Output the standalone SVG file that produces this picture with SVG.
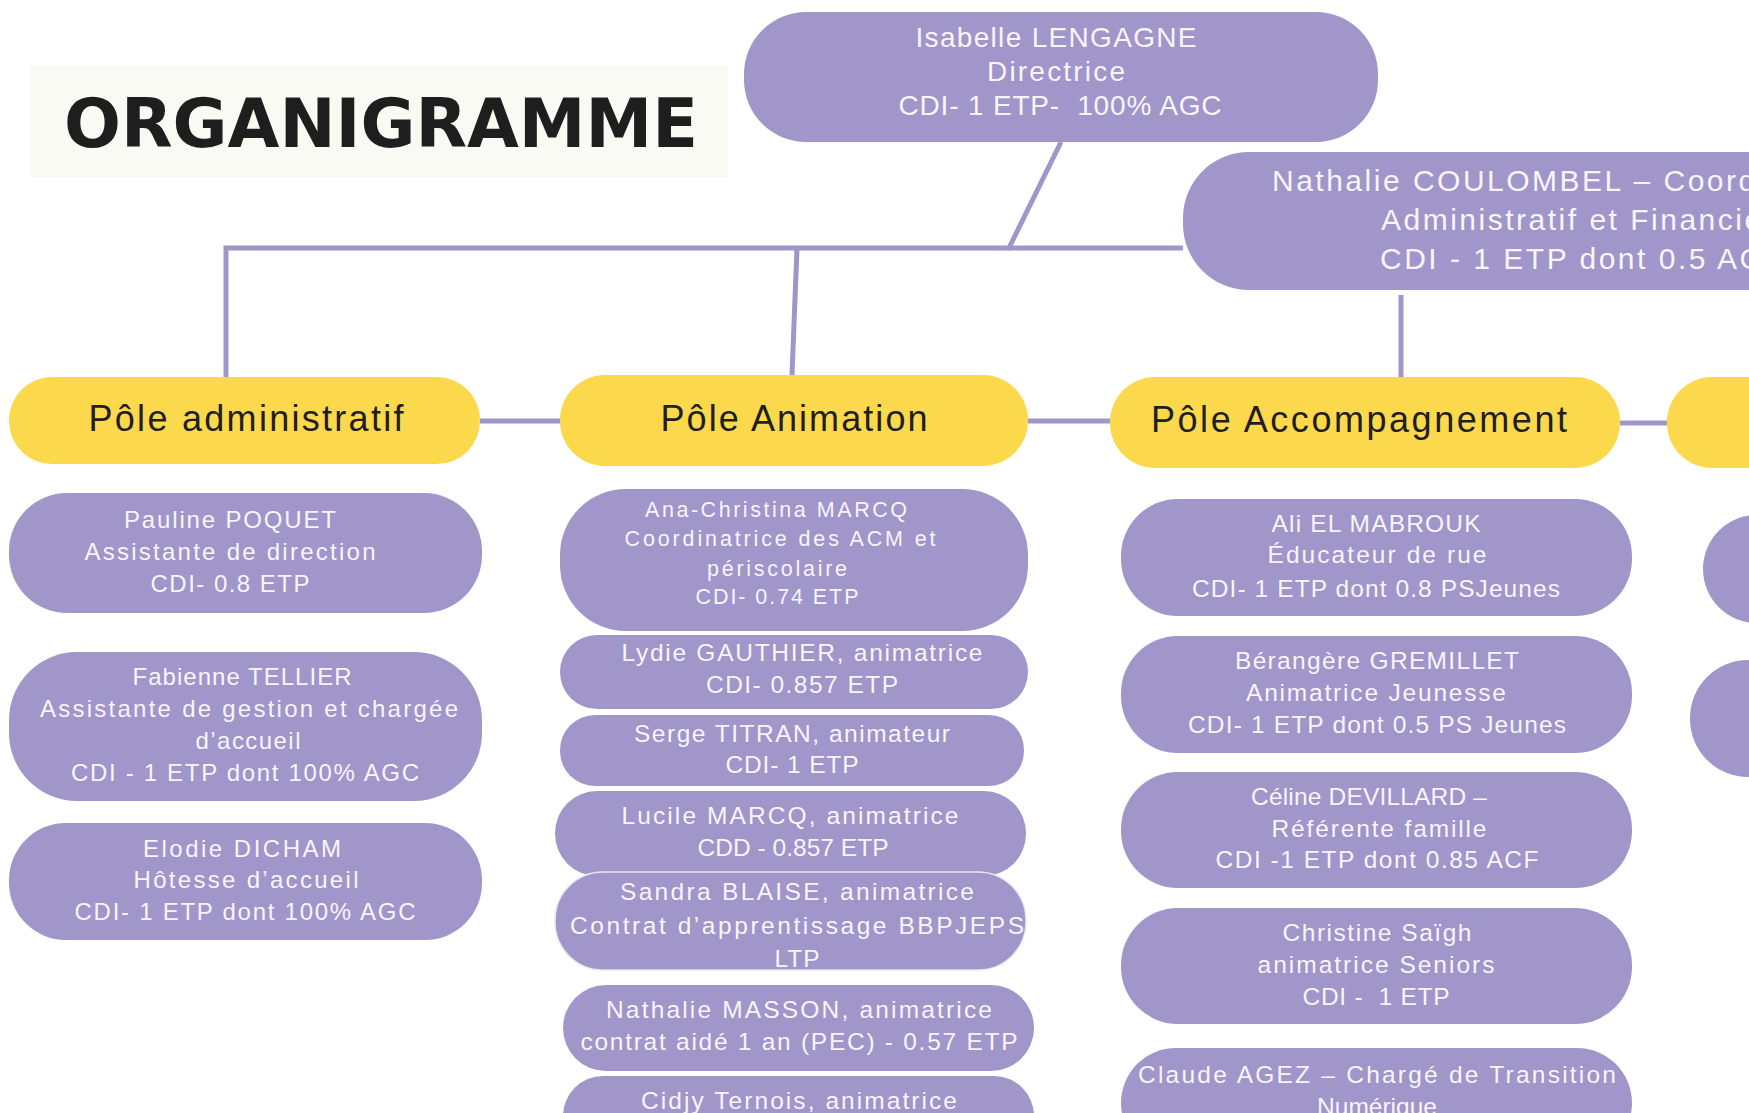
<svg xmlns="http://www.w3.org/2000/svg" width="1749" height="1113" viewBox="0 0 1749 1113">
<style>
.node{fill:#a196c9}
.pole{fill:#fcd84c}
.conn{fill:none;stroke:#a196c9;stroke-width:5}
text{font-family:"Liberation Sans",Arial,sans-serif}
.t{fill:#f7f5fb;text-anchor:middle}
.s20{font-size:21.5px}
.s22{font-size:24px}
.s23{font-size:24.5px}
.s28{font-size:28px}
.pt{fill:#1f1f1f;font-size:36px;text-anchor:middle}
.ts{fill:#f7f5fb;font-size:30px;letter-spacing:2.5px}
</style>
<rect x="0" y="0" width="1749" height="1113" fill="#ffffff"/>
<rect x="30" y="66" width="698" height="111" fill="#fafaf5"/>
<text x="64" y="147" style="font-family:'DejaVu Sans',sans-serif;font-weight:bold;font-size:67px;fill:#1e1e1e">ORGANIGRAMME</text>

<g id="connectors">
<path class="conn" d="M226,377 V248 H1183"/>
<path class="conn" d="M1061,142 L1008,250"/>
<path class="conn" d="M797,248 L792,375"/>
<path class="conn" d="M1401,295 V377"/>
<path class="conn" d="M480,421 H560"/>
<path class="conn" d="M1028,421 H1110"/>
<path class="conn" d="M1620,423 H1667"/>
</g>

<g id="isabelle">
<rect class="node" x="744" y="12" width="634" height="130" rx="62"/>
<text class="t s28" x="1056" y="47" textLength="281">Isabelle LENGAGNE</text>
<text class="t s28" x="1056" y="81" textLength="138">Directrice</text>
<text class="t s28" x="1060" y="115" textLength="323" xml:space="preserve">CDI- 1 ETP-  100% AGC</text>
</g>

<g id="nathalie-coulombel">
<rect class="node" x="1183" y="152" width="700" height="138" rx="66"/>
<text class="ts" x="1272" y="191">Nathalie COULOMBEL – Coordinatrice</text>
<text class="ts" x="1381" y="230">Administratif et Financier</text>
<text class="ts" x="1380" y="269">CDI - 1 ETP dont 0.5 AGC</text>
</g>

<g id="pole-administratif">
<rect class="pole" x="9" y="377" width="471" height="87" rx="43"/>
<text class="pt" x="246" y="431" textLength="315">Pôle administratif</text>
</g>
<g id="pole-animation">
<rect class="pole" x="560" y="375" width="468" height="91" rx="45"/>
<text class="pt" x="794" y="431" textLength="267">Pôle Animation</text>
</g>
<g id="pole-accompagnement">
<rect class="pole" x="1110" y="377" width="510" height="91" rx="45"/>
<text class="pt" x="1359" y="432" textLength="416">Pôle Accompagnement</text>
</g>
<g id="pole-4">
<rect class="pole" x="1667" y="377" width="200" height="91" rx="45"/>
</g>

<g id="pauline">
<rect class="node" x="9" y="493" width="473" height="120" rx="58"/>
<text class="t s22" x="230" y="528" textLength="212">Pauline POQUET</text>
<text class="t s22" x="230" y="560" textLength="291">Assistante de direction</text>
<text class="t s22" x="230" y="592" textLength="159">CDI- 0.8 ETP</text>
</g>
<g id="fabienne">
<rect class="node" x="9" y="652" width="473" height="149" rx="68"/>
<text class="t s22" x="242" y="685" textLength="219">Fabienne TELLIER</text>
<text class="t s22" x="249" y="717" textLength="418">Assistante de gestion et chargée</text>
<text class="t s22" x="248" y="749" textLength="105">d’accueil</text>
<text class="t s22" x="245" y="781" textLength="348">CDI - 1 ETP dont 100% AGC</text>
</g>
<g id="elodie">
<rect class="node" x="9" y="823" width="473" height="117" rx="57"/>
<text class="t s22" x="242" y="857" textLength="198">Elodie DICHAM</text>
<text class="t s22" x="246" y="888" textLength="225">Hôtesse d’accueil</text>
<text class="t s22" x="245" y="920" textLength="341">CDI- 1 ETP dont 100% AGC</text>
</g>

<g id="ana-christina">
<rect class="node" x="560" y="489" width="468" height="142" rx="66"/>
<text class="t s20" x="776" y="517" textLength="262">Ana-Christina MARCQ</text>
<text class="t s20" x="780" y="546" textLength="311">Coordinatrice des ACM et</text>
<text class="t s20" x="777" y="576" textLength="140">périscolaire</text>
<text class="t s20" x="777" y="604" textLength="163">CDI- 0.74 ETP</text>
</g>
<g id="lydie">
<rect class="node" x="560" y="635" width="468" height="74" rx="37"/>
<text class="t s23" x="802" y="661" textLength="361">Lydie GAUTHIER, animatrice</text>
<text class="t s23" x="802" y="693" textLength="192">CDI- 0.857 ETP</text>
</g>
<g id="serge">
<rect class="node" x="560" y="715" width="464" height="71" rx="35"/>
<text class="t s23" x="792" y="742" textLength="316">Serge TITRAN, animateur</text>
<text class="t s23" x="792" y="773" textLength="133">CDI- 1 ETP</text>
</g>
<g id="lucile">
<rect class="node" x="555" y="791" width="471" height="85" rx="42"/>
<text class="t s23" x="790" y="824" textLength="337">Lucile MARCQ, animatrice</text>
<text class="t s23" x="793" y="856" textLength="191">CDD - 0.857 ETP</text>
</g>
<g id="sandra">
<rect class="node" x="555" y="872" width="471" height="98" rx="48" stroke="#e9e6f3" stroke-width="1.5"/>
<text class="t s23" x="797" y="900" textLength="354">Sandra BLAISE, animatrice</text>
<text class="t s23" x="797" y="934" textLength="454">Contrat d’apprentissage BBPJEPS</text>
<text class="t s23" x="797" y="967" textLength="45">LTP</text>
</g>
<g id="nathalie-masson">
<rect class="node" x="563" y="985" width="471" height="86" rx="43"/>
<text class="t s23" x="799" y="1018" textLength="386">Nathalie MASSON, animatrice</text>
<text class="t s23" x="799" y="1050" textLength="437">contrat aidé 1 an (PEC) - 0.57 ETP</text>
</g>
<g id="cidjy">
<rect class="node" x="563" y="1076" width="471" height="80" rx="40"/>
<text class="t s23" x="799" y="1109" textLength="316">Cidjy Ternois, animatrice</text>
</g>

<g id="ali">
<rect class="node" x="1121" y="499" width="511" height="117" rx="57"/>
<text class="t s23" x="1376" y="532" textLength="209">Ali EL MABROUK</text>
<text class="t s23" x="1377" y="563" textLength="219">Éducateur de rue</text>
<text class="t s23" x="1376" y="597" textLength="368">CDI- 1 ETP dont 0.8 PSJeunes</text>
</g>
<g id="berangere">
<rect class="node" x="1121" y="636" width="511" height="117" rx="57"/>
<text class="t s23" x="1377" y="669" textLength="284">Bérangère GREMILLET</text>
<text class="t s23" x="1376" y="701" textLength="260">Animatrice Jeunesse</text>
<text class="t s23" x="1377" y="733" textLength="378">CDI- 1 ETP dont 0.5 PS Jeunes</text>
</g>
<g id="celine">
<rect class="node" x="1121" y="772" width="511" height="116" rx="57"/>
<text class="t s23" x="1369" y="805" textLength="236">Céline DEVILLARD –</text>
<text class="t s23" x="1379" y="837" textLength="215">Référente famille</text>
<text class="t s23" x="1377" y="868" textLength="323">CDI -1 ETP dont 0.85 ACF</text>
</g>
<g id="christine">
<rect class="node" x="1121" y="908" width="511" height="116" rx="57"/>
<text class="t s23" x="1377" y="941" textLength="189">Christine Saïgh</text>
<text class="t s23" x="1376" y="973" textLength="237">animatrice Seniors</text>
<text class="t s23" x="1376" y="1005" textLength="147" xml:space="preserve">CDI -  1 ETP</text>
</g>
<g id="claude">
<rect class="node" x="1121" y="1048" width="511" height="110" rx="55"/>
<text class="t s23" x="1377" y="1083" textLength="478">Claude AGEZ – Chargé de Transition</text>
<text class="t s23" x="1377" y="1115">Numérique</text>
</g>

<g id="right-node-1">
<rect class="node" x="1703" y="515" width="200" height="108" rx="54"/>
</g>
<g id="right-node-2">
<rect class="node" x="1690" y="660" width="200" height="117" rx="58"/>
</g>
</svg>
